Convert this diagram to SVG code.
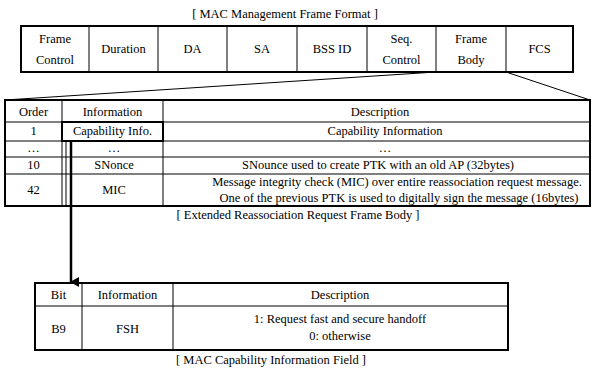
<svg xmlns="http://www.w3.org/2000/svg" width="595" height="372" viewBox="0 0 595 372">
<style>
text{font-family:"Liberation Serif","Times New Roman",serif;font-size:12.5px;fill:#000;text-anchor:middle}
.thin{stroke:#000;stroke-width:1;fill:none}
.thick{stroke:#000;stroke-width:2;fill:none}
</style>
<defs>
<marker id="ah" markerWidth="10" markerHeight="10" refX="5" refY="8" orient="auto" markerUnits="userSpaceOnUse">
<path d="M0,0 L10,0 L5,9 Z" fill="#000"/>
</marker>
</defs>
<rect width="595" height="372" fill="#fff"/>

<g id="frame-format" font-family="Liberation Serif, serif">
<text x="285" y="18">[ MAC Management Frame Format ]</text>
<rect class="thick" x="21" y="26" width="552" height="46"/>
<path class="thin" d="M89,26V72M158,26V72M227,26V72M297,26V72M367,26V72M436,26V72M506,26V72"/>
<text x="55" y="43">Frame</text><text x="55" y="64">Control</text>
<text x="123.5" y="53">Duration</text>
<text x="192.5" y="53">DA</text>
<text x="262" y="53">SA</text>
<text x="332" y="53">BSS ID</text>
<text x="401.5" y="43">Seq.</text><text x="401.5" y="64">Control</text>
<text x="471" y="43">Frame</text><text x="471" y="64">Body</text>
<text x="539.5" y="53">FCS</text>
</g>

<g id="frame-body">
<rect class="thick" x="5" y="100" width="585" height="106"/>
<path class="thin" d="M5,122H590M5,141H590M5,157H590M5,174H590M62,100V206M66,141V206M163,100V206"/>
<text x="33.5" y="116">Order</text>
<text x="112.5" y="116">Information</text>
<text x="380" y="116">Description</text>
<text x="33.5" y="135">1</text>
<text x="385" y="135">Capability Information</text>
<text x="33.5" y="152">…</text>
<text x="114" y="152">…</text>
<text x="385" y="152">…</text>
<text x="33.5" y="169">10</text>
<text x="114" y="169">SNonce</text>
<text x="378" y="169">SNounce used to create PTK with an old AP (32bytes)</text>
<text x="33.5" y="194">42</text>
<text x="114" y="194">MIC</text>
<text x="397" y="186">Message integrity check (MIC) over entire reassociation request message.</text>
<text x="399" y="202">One of the previous PTK is used to digitally sign the message (16bytes)</text>
<text x="298" y="219">[ Extended Reassociation Request Frame Body ]</text>
</g>

<g id="capability-info">
<rect class="thick" x="62" y="122" width="101" height="19"/>
<text x="112.5" y="135">Capability Info.</text>
</g>

<g id="capability-field">
<rect class="thick" x="35" y="283" width="473" height="67"/>
<path class="thin" d="M35,306H508M82,283V350M173,283V350"/>
<text x="58.5" y="299">Bit</text>
<text x="127.5" y="299">Information</text>
<text x="340" y="299">Description</text>
<text x="58.5" y="333">B9</text>
<text x="127.5" y="333">FSH</text>
<text x="340" y="323">1: Request fast and secure handoff</text>
<text x="340" y="340">0: otherwise</text>
<text x="271" y="364">[ MAC Capability Information Field ]</text>
</g>

<g id="connectors">
<path class="thin" d="M436,72L5,100"/>
<path class="thin" d="M506,72L590,100"/>
<path d="M71,141V282" stroke="#000" stroke-width="2.5" fill="none" marker-end="url(#ah)"/>
</g>
</svg>
